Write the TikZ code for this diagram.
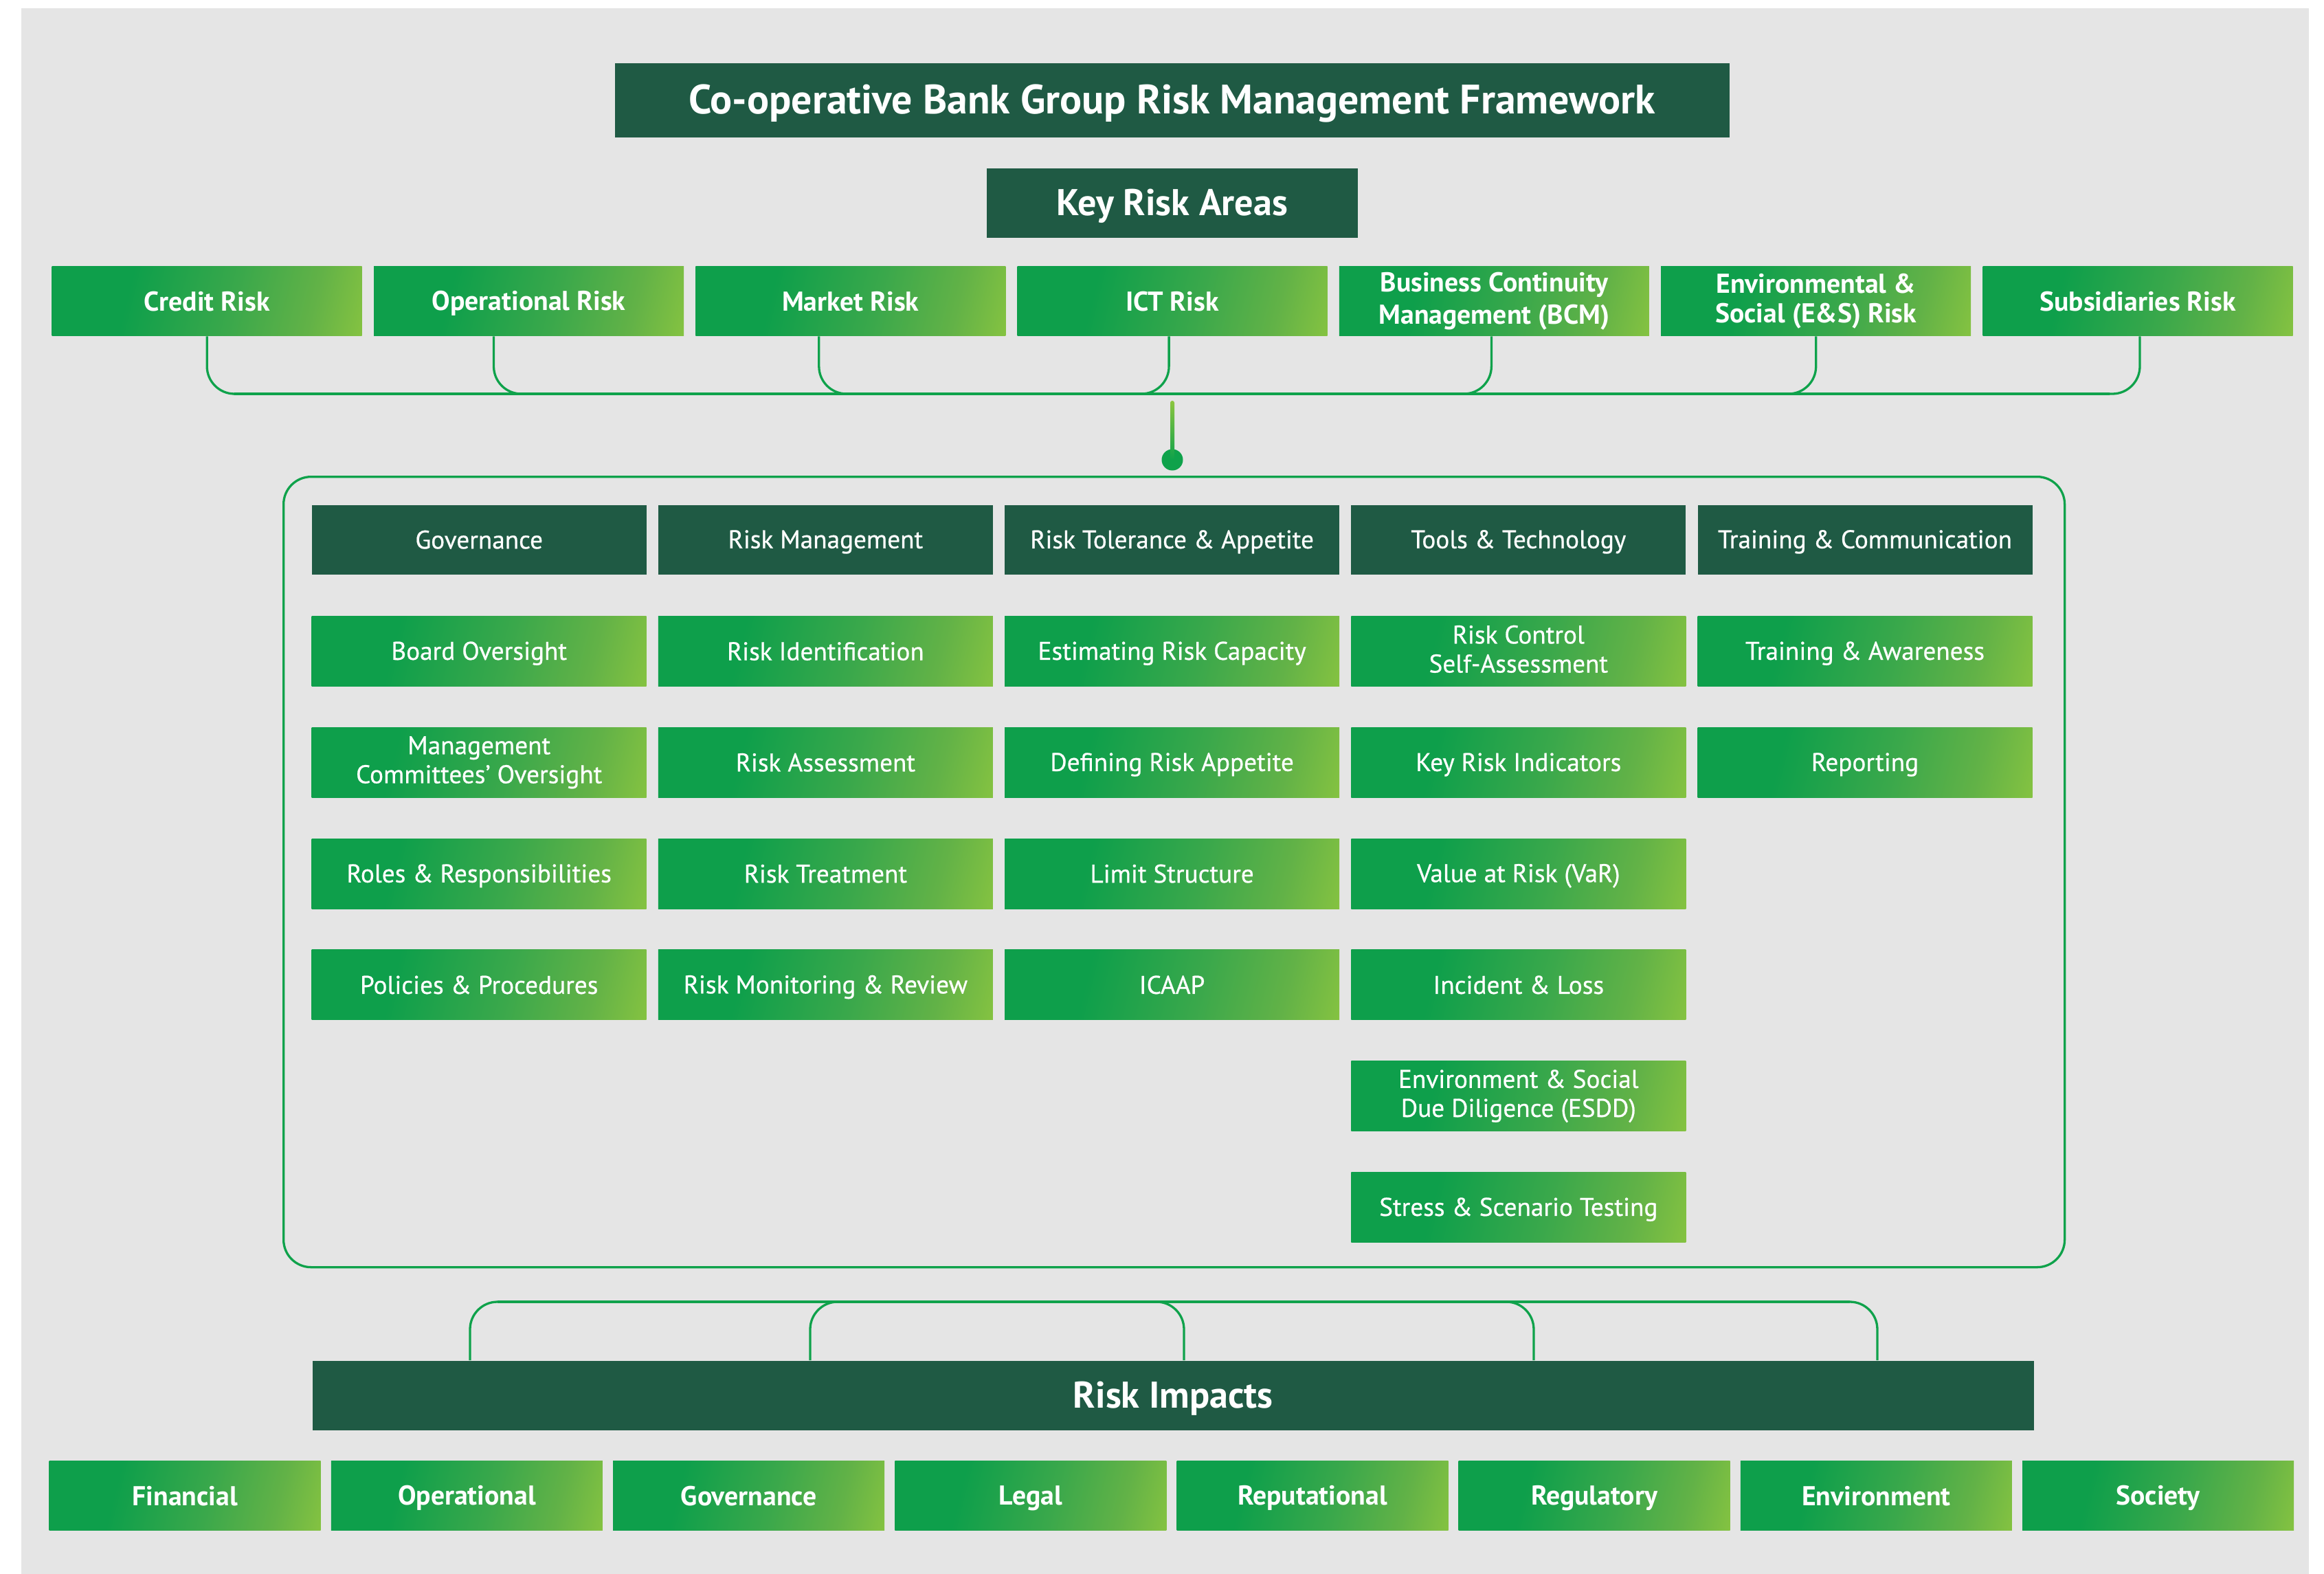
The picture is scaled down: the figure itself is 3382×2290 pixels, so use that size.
\documentclass[tikz,border=0pt]{standalone}
\usepackage{fontspec}
\setmainfont{PT Sans}
\newfontfamily\medfont{PT Sans}[FakeBold=0.6]
\usetikzlibrary{calc}
\definecolor{bgc}{HTML}{E5E5E5}
\definecolor{dg}{HTML}{1F5A44}
\definecolor{ln}{HTML}{0FA24B}
\definecolor{gA}{HTML}{0E9F4B}
\definecolor{gB}{HTML}{3AA84B}
\definecolor{gM}{HTML}{62B247}
\definecolor{gC}{HTML}{8AC540}
\definecolor{gL}{HTML}{8CC63F}
\pgfdeclarehorizontalshading{gboxshade}{100bp}{color(0bp)=(gA); color(35bp)=(gA); color(55bp)=(gB); color(70bp)=(gM); color(82bp)=(gC); color(100bp)=(gC)}
\newcommand{\sx}{\rule[-0.18em]{0pt}{1.06em}}
\begin{document}
\begin{tikzpicture}[x=0.1mm, y=-0.1mm,
 base/.style={anchor=north west, inner sep=0pt, text=white, align=center, execute at begin node=\sx},
 titlebox/.style={base, fill=dg, minimum width=162.2mm, minimum height=10.8mm, font=\bfseries\fontsize{17}{19}\selectfont},
 headbox/.style={base, fill=dg, minimum height=10.1mm, font=\bfseries\fontsize{15.4}{17}\selectfont},
 gshade/.style={shade, shading=gboxshade, shading angle=-14},
 krbox/.style={base, gshade, minimum width=45.1mm, minimum height=10.1mm, font=\bfseries\fontsize{11.3}{12}\selectfont},
 colhead/.style={base, fill=dg, minimum width=48.7mm, minimum height=10.1mm, font=\medfont\fontsize{10.6}{12}\selectfont},
 itembox/.style={base, gshade, minimum width=48.7mm, minimum height=10.2mm, font=\medfont\fontsize{10.6}{12}\selectfont},
 impbox/.style={base, gshade, minimum width=39.5mm, minimum height=10.1mm, font=\bfseries\fontsize{11.3}{12}\selectfont},
 conn/.style={draw=ln, line width=0.33mm, rounded corners=4mm},
 framebox/.style={anchor=north west, inner sep=0pt, draw=ln, line width=0.33mm, rounded corners=4mm},
 dotnode/.style={circle, fill=ln, inner sep=0pt, minimum size=3.1mm}
]
\useasboundingbox (0,0) rectangle (3382,2290);
\fill[white] (0,0) rectangle (3382,2290);
\fill[bgc] (31,12) rectangle (3360,2290);

% title and header
\node[titlebox] (title) at (894,91) {Co-operative Bank Group Risk Management Framework};
\node[headbox, minimum width=54mm] (kra) at (1435,244) {Key Risk Areas};

% key risk areas
\node[krbox] (kr1) at (75,387) {Credit Risk};
\node[krbox] (kr2) at (543.3,387) {Operational Risk};
\node[krbox] (kr3) at (1011.6,387) {Market Risk};
\node[krbox] (kr4) at (1479.9,387) {ICT Risk};
\node[krbox] (kr5) at (1948.2,387) {Business Continuity\\\sx Management (BCM)};
\node[krbox] (kr6) at (2416.5,387) {Environmental \&\\\sx Social (E\&S) Risk};
\node[krbox] (kr7) at (2884.8,387) {Subsidiaries Risk};

% top bracket
\coordinate (hL) at (340.5,573);
\coordinate (hR) at (3070,573);
\draw[conn] (kr1.south) |- (hR);
\draw[conn] ([xshift=-5.1mm]kr2.south) |- (hR);
\draw[conn] ([xshift=-4.6mm]kr3.south) |- (hR);
\draw[conn] ([xshift=-0.5mm]kr4.south) |- (hL);
\draw[conn] ([xshift=-0.4mm]kr5.south) |- (hL);
\draw[conn] (kr6.south) |- (hL);
\draw[conn] ([xshift=0.3mm]kr7.south) |- (hL);

% stem and dot
\coordinate (stemtop) at (1706,583);
\node[dotnode] (dot) at (1706,669) {};
\shade[top color=gL, bottom color=ln, rounded corners=0.3mm] ([xshift=-0.3mm]stemtop) rectangle ([xshift=0.3mm]dot.center);

% frame
\node[framebox, minimum width=259.2mm, minimum height=115mm] (frame) at (411,692) {};

% grid
\node[colhead] (c1) at (453,734) {Governance};
\node[colhead] (c2) at (957.2,734) {Risk Management};
\node[colhead] (c3) at (1461.4,734) {Risk Tolerance \& Appetite};
\node[colhead] (c4) at (1965.6,734) {Tools \& Technology};
\node[colhead] (c5) at (2469.8,734) {Training \& Communication};

\node[itembox] (a1) at (453,895.8) {Board Oversight};
\node[itembox] (a2) at (453,1057.6) {Management\\\sx Committees’ Oversight};
\node[itembox] (a3) at (453,1219.4) {Roles \& Responsibilities};
\node[itembox] (a4) at (453,1381.2) {Policies \& Procedures};

\node[itembox] (b1) at (957.2,895.8) {Risk Identification};
\node[itembox] (b2) at (957.2,1057.6) {Risk Assessment};
\node[itembox] (b3) at (957.2,1219.4) {Risk Treatment};
\node[itembox] (b4) at (957.2,1381.2) {Risk Monitoring \& Review};

\node[itembox] (d1) at (1461.4,895.8) {Estimating Risk Capacity};
\node[itembox] (d2) at (1461.4,1057.6) {Defining Risk Appetite};
\node[itembox] (d3) at (1461.4,1219.4) {Limit Structure};
\node[itembox] (d4) at (1461.4,1381.2) {ICAAP};

\node[itembox] (e1) at (1965.6,895.8) {Risk Control\\\sx Self-Assessment};
\node[itembox] (e2) at (1965.6,1057.6) {Key Risk Indicators};
\node[itembox] (e3) at (1965.6,1219.4) {Value at Risk (VaR)};
\node[itembox] (e4) at (1965.6,1381.2) {Incident \& Loss};
\node[itembox] (e5) at (1965.6,1543) {Environment \& Social\\\sx Due Diligence (ESDD)};
\node[itembox] (e6) at (1965.6,1704.8) {Stress \& Scenario Testing};

\node[itembox] (f1) at (2469.8,895.8) {Training \& Awareness};
\node[itembox] (f2) at (2469.8,1057.6) {Reporting};

% risk impacts
\node[headbox, minimum width=250.5mm] (ri) at (454,1979) {Risk Impacts};

\coordinate (bL) at (724,1894);
\coordinate (bR) at (2692,1894);
\draw[conn] ([xshift=23mm]ri.north west) |- (bR);
\draw[conn] ([xshift=72.5mm]ri.north west) |- (bR);
\draw[conn] ([xshift=126.9mm]ri.north west) |- (bL);
\draw[conn] ([xshift=177.8mm]ri.north west) |- (bL);
\draw[conn] ([xshift=227.8mm]ri.north west) |- (bL);

\node[impbox] (i1) at (71,2125) {Financial};
\node[impbox] (i2) at (481.2,2125) {Operational};
\node[impbox] (i3) at (891.4,2125) {Governance};
\node[impbox] (i4) at (1301.6,2125) {Legal};
\node[impbox] (i5) at (1711.8,2125) {Reputational};
\node[impbox] (i6) at (2122,2125) {Regulatory};
\node[impbox] (i7) at (2532.2,2125) {Environment};
\node[impbox] (i8) at (2942.4,2125) {Society};
\end{tikzpicture}
\end{document}
